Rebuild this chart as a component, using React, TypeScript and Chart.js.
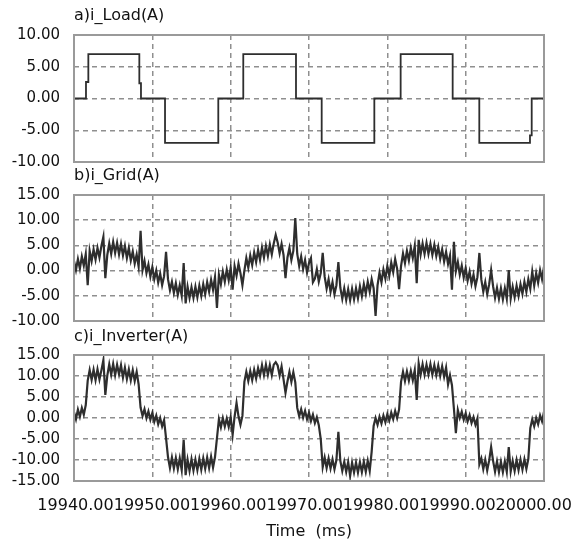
import React, { useEffect, useRef } from 'react';
import { Chart, registerables } from 'chart.js';

Chart.register(...registerables);

// ---------- data ----------
const TIME_START = 19940; // ms
const TIME_END = 20000; // ms
const SAMPLE_STEP = 0.25; // ms between samples of the measured (noisy) traces
const TIME_TICKS = [19940, 19950, 19960, 19970, 19980, 19990, 20000];

// a) load current: step waveform (time of each change, new level)
const LOAD_T = [19940, 19941.53, 19941.83, 19948.34, 19948.55, 19951.62, 19958.42, 19961.61, 19968.34, 19971.62, 19978.34, 19981.7, 19988.34, 19991.74, 19998.21, 19998.43, 20000];
const LOAD_I = [0, 2.6, 7, 2.4, 0, -7, 0, 7, 0, -7, 0, 7, 0, -7, -5.8, 0, 0];

// b) grid current, one sample every SAMPLE_STEP from TIME_START
const GRID_I = [
  1.9, 0.1, 2.3, 0.4, 2.8, 1.0, 3.3, -2.9, 3.9, 1.9, 4.2, 2.2, 4.5, 2.6, 4.9, 6.7,
  -1.5, 3.1, 5.4, 3.3, 5.7, 3.5, 5.5, 3.2, 5.3, 3.0, 4.9, 2.5, 4.5, 2.0, 3.8, 1.4,
  3.2, 0.8, 7.9, 0.1, 1.9, -0.5, 1.2, -1.2, 0.7, -1.7, 0.0, -2.4, -0.6, -2.9, -1.1, 3.7,
  -1.7, -3.9, -2.2, -4.4, -2.5, -4.8, -2.9, -5.0, 1.5, -6.5, -3.2, -5.4, -3.3, -5.4, -3.2, -5.3,
  -3.0, -5.0, -2.7, -4.7, -2.3, -4.2, -1.8, -3.8, -1.3, -7.4, -0.8, -2.7, -0.2, -2.2, 0.2, -1.9,
  0.6, -3.8, 0.9, -1.0, 1.4, -0.5, -2.9, 0.0, 2.5, 0.6, 3.0, 1.1, 3.6, 1.7, 4.1, 2.1,
  4.6, 2.6, 4.9, 2.9, 5.2, 3.2, 5.4, 7.1, 5.6, 3.4, 5.3, 3.1, -1.5, 2.6, 4.5, 2.1,
  3.9, 10.4, 3.3, 0.9, 2.8, 0.3, 2.1, -0.4, 1.5, 2.5, -2.3, -1.6, 0.3, -2.2, -0.5, 3.5,
  -1.2, -3.6, -1.7, -4.2, -2.3, -4.7, -2.9, 1.7, -3.4, -5.6, -3.5, -5.8, -3.7, -5.9, -3.6, -5.7,
  -3.5, -5.5, -3.1, -5.1, -2.7, -4.6, -2.2, -4.2, -1.7, -3.5, -9.0, -2.9, -0.4, -2.3, 0.2, -1.6,
  0.9, -1.0, 1.6, -0.3, 2.3, 0.4, -3.7, 0.9, 3.4, 1.5, 3.9, 2.0, 4.5, 2.5, 4.9, -2.5,
  6.1, 3.2, 5.4, 3.3, 5.5, 3.3, 5.3, 3.1, 5.1, 2.9, 4.7, 2.3, 4.2, 1.8, 3.7, 1.3,
  3.0, -3.8, 5.7, -0.1, 1.7, -0.8, 1.0, -1.4, 0.5, -2.0, -0.2, -2.6, -0.8, -3.1, -1.3, 3.5,
  -1.8, -4.2, -2.3, -4.7, -2.7, 0.1, -3.1, -5.4, -3.4, -5.6, -3.5, -5.7, -3.5, -5.6, 0.1, -5.5,
  -3.2, -5.3, -3.0, -5.0, -2.7, -4.6, -2.2, -4.2, -1.7, -3.6, -0.2, -3.0, -0.5, -2.4, 0.1, -1.7,
  0.8,
];

// c) inverter current, one sample every SAMPLE_STEP from TIME_START
const INV_I = [
  1.4, -0.3, 2.0, 0.3, 2.4, 0.8, 3.1,
  8.9, 11.4, 9.1, 11.5, 9.0, 11.6, 9.2, 11.4, 13.8, 5.5, 10.1, 12.8, 10.3, 12.9, 10.2, 12.7, 10.4, 12.6, 9.6, 12.0, 9.3, 11.6, 9.0, 11.4, 8.8, 11.0, 8.0,
  2.5, 0.5, 2.1, 0.0, 1.6, -0.4, 1.2, -0.9, 0.6, -1.5, 0.0, -2.0, -0.5,
  -4.8,
  -9.3, -11.9, -9.4, -12.0, -9.5, -12.2, -9.6, -12.4, -5.2, -13.6, -9.9, -12.6, -9.8, -12.5, -9.9, -12.4, -9.7, -12.3, -9.6, -12.1, -9.4, -11.9, -9.2, -11.8, -9.3,
  -4.8,
  -0.3, -2.2, 0.0, -2.0, -0.1, -2.1, 0.2, -4.0, 0.3, 3.6, 0.4, -1.6, 0.5,
  8.6, 11.0, 8.8, 11.2, 9.0, 11.5, 9.4, 11.9, 10.1, 12.6, 10.2, 12.7, 10.3, 12.6, 10.2, 12.7, 13.3, 12.5, 10.1, 12.3, 9.2, 6.0, 8.7, 11.0, 8.6, 10.9, 8.5,
  2.4, 0.4, 2.1, 0.1, 1.7, -0.3, 1.3, -0.7, 0.8, -1.2, 0.2, -1.7,
  -5.0,
  -11.7, -9.4, -11.9, -9.6, -12.0, -9.8, -12.2, -10.0, -3.3, -10.2, -12.6, -10.4, -12.8, -10.5, -13.8, -10.6, -13.0, -10.6, -13.0, -10.5, -12.9, -10.4, -12.8, -10.2, -12.6,
  -8.0,
  -1.9, 0.0, -1.6, 0.3, -1.3, 0.6, -1.0, 0.9, -0.6, 1.3, -0.3, 1.7, 0.0, 2.0,
  8.6, 11.0, 8.8, 11.1, 8.9, 11.2, 9.0, 11.4, 4.3, 13.0, 10.3, 12.8, 10.3, 12.7, 10.4, 12.8, 10.3, 12.6, 10.2, 12.5, 10.0, 12.3, 9.8, 12.0, 8.0, 10.2, 7.8,
  2.2, -3.6, 1.9, 0.0, 1.5, -0.4, 1.1, -0.8, 0.7, -1.2, 0.2, -1.6, -0.1,
  -11.0, -9.6, -12.2, -9.9, -12.5, -10.1, -6.9, -10.2, -12.8, -10.3, -12.9, -10.4, -12.9, -10.3, -12.8, -6.9, -12.7, -10.2, -12.6, -10.0, -12.4, -9.9, -12.3, -9.8, -12.1, -9.7,
  -2.4, -0.3, -2.0, 0.0, -1.5, 0.6, -0.8, 1.5,
];

const TITLES = ['a)i_Load(A)', 'b)i_Grid(A)', 'c)i_Inverter(A)'];
const Y_RANGES = [[-10, 10], [-10, 15], [-15, 15]];
const Y_STEP = 5;
const X_TITLE = 'Time  (ms)';

// ---------- styles ----------
const FONT = "'DejaVu Sans', sans-serif";
const TEXT = '#111111';
const GRID = '#8f8f8f';
const FRAME = '#9a9a9a';
const TRACE = '#2e2e2e';
const W = 574;
const LABEL_AXIS_MIN = 19939.8;
const LABEL_AXIS_MAX = 20001.34;

const framePlugin = {
  id: 'frame',
  afterDraw(chart: any) {
    const { ctx, chartArea: a } = chart;
    ctx.save();
    ctx.strokeStyle = FRAME;
    ctx.lineWidth = 2;
    ctx.strokeRect(a.left, a.top, a.right - a.left, a.bottom - a.top);
    ctx.restore();
  },
};

const fmt = (v: any) => Number(v).toFixed(2);

function sampled(values: number[]) {
  return values.map((y, i) => ({ x: TIME_START + i * SAMPLE_STEP, y }));
}

function makeConfig(p: {
  idx: number;
  points: { x: number; y: number }[];
  stepped: boolean;
  lineWidth: number;
  padTop: number;
  padBottom: number;
  layoutBottom: number;
  timeAxis: boolean;
}) {
  const [yMin, yMax] = Y_RANGES[p.idx];
  const scales: any = {
    x: {
      type: 'linear',
      min: TIME_START,
      max: TIME_END,
      afterBuildTicks: (s: any) => {
        s.ticks = TIME_TICKS.map((v) => ({ value: v }));
      },
      ticks: { display: false },
      grid: { color: GRID, lineWidth: 1.5, drawTicks: false },
      border: { display: false, dash: [5, 4] },
      afterFit: (s: any) => {
        s.height = 0;
        s.paddingLeft = 0;
        s.paddingRight = 0;
      },
    },
    y: {
      type: 'linear',
      min: yMin,
      max: yMax,
      ticks: {
        stepSize: Y_STEP,
        padding: 14,
        color: TEXT,
        font: { family: FONT, size: 15 },
        callback: fmt,
      },
      grid: { color: GRID, lineWidth: 1.5, drawTicks: false },
      border: { display: false, dash: [5, 4] },
      afterFit: (s: any) => {
        s.width = 74;
        s.paddingTop = 0;
        s.paddingBottom = 0;
      },
    },
  };
  if (p.timeAxis) {
    scales.xl = {
      type: 'linear',
      position: 'bottom',
      min: LABEL_AXIS_MIN,
      max: LABEL_AXIS_MAX,
      afterBuildTicks: (s: any) => {
        s.ticks = TIME_TICKS.map((v) => ({ value: v }));
      },
      ticks: {
        autoSkip: false,
        maxRotation: 0,
        minRotation: 0,
        padding: 15,
        color: TEXT,
        font: { family: FONT, size: 16 },
        callback: fmt,
      },
      grid: { display: false, drawTicks: false },
      border: { display: false },
      title: {
        display: true,
        text: X_TITLE,
        color: TEXT,
        font: { family: FONT, size: 16 },
        padding: { top: 0, bottom: 5 },
      },
      afterFit: (s: any) => {
        s.height = 65;
        s.paddingLeft = 0;
        s.paddingRight = 0;
      },
    };
  }
  return {
    type: 'line' as const,
    data: {
      datasets: [
        {
          data: p.points,
          borderColor: TRACE,
          borderWidth: p.lineWidth,
          pointRadius: 0,
          stepped: p.stepped ? ('before' as const) : false,
          tension: 0,
          fill: false,
        },
      ],
    },
    options: {
      animation: false as const,
      responsive: false,
      devicePixelRatio: 1,
      events: [],
      layout: { padding: { left: 0, right: W - 544, top: 0, bottom: p.layoutBottom } },
      plugins: {
        legend: { display: false },
        tooltip: { enabled: false },
        title: {
          display: true,
          text: TITLES[p.idx],
          align: 'start' as const,
          fullSize: false,
          color: TEXT,
          font: { family: FONT, size: 16, weight: 'normal' as const, lineHeight: '20px' },
          padding: { top: p.padTop, bottom: p.padBottom },
        },
      },
      scales,
    },
    plugins: [framePlugin],
  };
}

function Panel({ top, height, build }: { top: number; height: number; build: () => any }) {
  const ref = useRef<HTMLCanvasElement>(null);
  useEffect(() => {
    const chart = new Chart(ref.current as HTMLCanvasElement, build());
    return () => chart.destroy();
  }, []);
  return (
    <canvas
      ref={ref}
      width={W}
      height={height}
      style={{ position: 'absolute', left: 0, top, width: W, height }}
    />
  );
}

export default function App() {
  const loadPoints = LOAD_T.map((t, i) => ({ x: t, y: LOAD_I[i] }));
  return (
    <div style={{ position: 'absolute', left: 0, top: 0, width: W, height: 546, background: '#ffffff', overflow: 'hidden' }}>
      <Panel
        top={0}
        height={175}
        build={() =>
          makeConfig({ idx: 0, points: loadPoints, stepped: true, lineWidth: 1.8, padTop: 6, padBottom: 9, layoutBottom: 13, timeAxis: false })
        }
      />
      <Panel
        top={160}
        height={175}
        build={() =>
          makeConfig({ idx: 1, points: sampled(GRID_I), stepped: false, lineWidth: 2.2, padTop: 6, padBottom: 9, layoutBottom: 14, timeAxis: false })
        }
      />
      <Panel
        top={320}
        height={226}
        build={() =>
          makeConfig({ idx: 2, points: sampled(INV_I), stepped: false, lineWidth: 2.2, padTop: 7, padBottom: 8, layoutBottom: 0, timeAxis: true })
        }
      />
    </div>
  );
}
